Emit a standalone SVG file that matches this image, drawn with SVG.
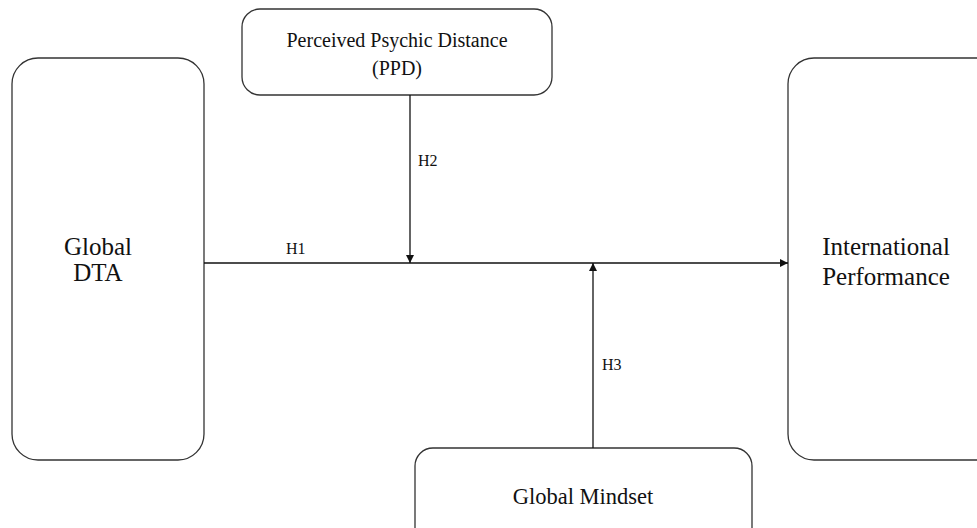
<svg xmlns="http://www.w3.org/2000/svg" width="977" height="528" viewBox="0 0 977 528">
<style>
.box{fill:#fff;stroke:#333;stroke-width:1.3}
.big{font-size:25px;fill:#111;text-anchor:middle}
.mid{font-size:20px;fill:#111;text-anchor:middle}
.mind{font-size:22.5px;fill:#111;text-anchor:middle}
.lab{font-size:16px;fill:#111}
.ln{stroke:#111;stroke-width:1.3;fill:none}
</style>
<defs>
<marker id="ah" viewBox="0 0 10 10" refX="10" refY="5" markerWidth="9" markerHeight="8" markerUnits="userSpaceOnUse" orient="auto">
<path d="M0,0 L10,5 L0,10 z" fill="#111"/>
</marker>
</defs>
<rect width="977" height="528" fill="#fff"/>
<g font-family="'Liberation Serif', 'DejaVu Serif', serif">
<g id="global-dta">
<rect class="box" x="12" y="58" width="192" height="402" rx="26"/>
<text class="big" x="98" y="255">Global</text>
<text class="big" x="98" y="281">DTA</text>
</g>
<g id="intl-perf">
<rect class="box" x="788" y="58" width="215" height="402" rx="26"/>
<text class="big" x="886" y="255">International</text>
<text class="big" x="886" y="285">Performance</text>
</g>
<g id="ppd">
<rect class="box" x="242" y="9" width="310" height="86" rx="18"/>
<text class="mid" x="397" y="47">Perceived Psychic Distance</text>
<text class="mid" x="397" y="75">(PPD)</text>
</g>
<g id="mindset">
<rect class="box" x="415" y="448" width="337" height="110" rx="18"/>
<text class="mind" x="583" y="504">Global Mindset</text>
</g>
<g id="connectors">
<line class="ln" x1="204" y1="263" x2="788" y2="263" marker-end="url(#ah)"/>
<line class="ln" x1="410" y1="95" x2="410" y2="263" marker-end="url(#ah)"/>
<line class="ln" x1="593" y1="448" x2="593" y2="263" marker-end="url(#ah)"/>
<text class="lab" x="286" y="254">H1</text>
<text class="lab" x="418" y="166">H2</text>
<text class="lab" x="602" y="370">H3</text>
</g>
</g>
</svg>
